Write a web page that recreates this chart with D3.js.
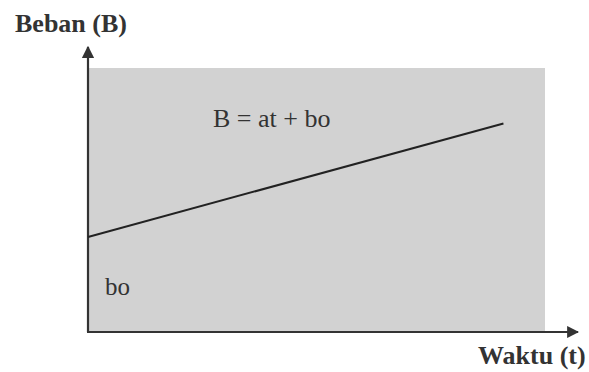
<!DOCTYPE html>
<html>
<head>
<meta charset="utf-8">
<script src="https://cdn.jsdelivr.net/npm/d3@7"></script>
<style>
  html, body { margin: 0; padding: 0; background: #fff; }
  svg { display: block; }
  .lbl { font-family: "Liberation Serif", "Times New Roman", Times, "DejaVu Serif", serif; fill: #333; }
</style>
</head>
<body>
<svg id="chart" width="589" height="372"></svg>
<script>
// Linear load model B = a*t + bo
const timeDomain = [0, 11];
const loadDomain = [0, 10];
const lineT = [0, 10];
const lineB = [3.6, 7.9];
const equationLabel = "B = at + bo";
const interceptLabel = "bo";
const yAxisTitle = "Beban (B)";
const xAxisTitle = "Waktu (t)";

const svg = d3.select("#chart");
const plot = { left: 88, right: 545, top: 68, bottom: 332 };

const x = d3.scaleLinear().domain(timeDomain).range([plot.left, plot.right]);
const y = d3.scaleLinear().domain(loadDomain).range([plot.bottom, plot.top]);

// shaded plotting region
svg.append("rect")
  .attr("x", x(timeDomain[0]))
  .attr("y", y(loadDomain[1]))
  .attr("width", x(timeDomain[1]) - x(timeDomain[0]))
  .attr("height", y(loadDomain[0]) - y(loadDomain[1]))
  .attr("fill", "#d2d2d2");

// arrowhead marker
const defs = svg.append("defs");
defs.append("marker")
  .attr("id", "arrow")
  .attr("viewBox", "0 0 10 10")
  .attr("refX", 9).attr("refY", 5)
  .attr("markerWidth", 5.5).attr("markerHeight", 5.5)
  .attr("markerUnits", "strokeWidth")
  .attr("orient", "auto")
  .append("path")
  .attr("d", "M0,0 L10,5 L0,10 Z")
  .attr("fill", "#333");

// axes with arrows
svg.append("line")
  .attr("x1", x(0)).attr("y1", y(0))
  .attr("x2", x(0)).attr("y2", 47)
  .attr("stroke", "#333").attr("stroke-width", 2.2)
  .attr("marker-end", "url(#arrow)");
svg.append("line")
  .attr("x1", x(0) - 1).attr("y1", y(0))
  .attr("x2", 578).attr("y2", y(0))
  .attr("stroke", "#333").attr("stroke-width", 2.2)
  .attr("marker-end", "url(#arrow)");

// model line
const pts = lineT.map((t, i) => [t, lineB[i]]);
svg.append("path")
  .datum(pts)
  .attr("d", d3.line().x(d => x(d[0])).y(d => y(d[1])))
  .attr("fill", "none")
  .attr("stroke", "#222")
  .attr("stroke-width", 2);

// labels
svg.append("text").attr("class", "lbl")
  .attr("x", 15).attr("y", 32)
  .attr("font-weight", "bold").attr("font-size", 26)
  .text(yAxisTitle);
svg.append("text").attr("class", "lbl")
  .attr("x", 478).attr("y", 364)
  .attr("font-weight", "bold").attr("font-size", 26)
  .text(xAxisTitle);
svg.append("text").attr("class", "lbl")
  .attr("x", 213).attr("y", 127)
  .attr("font-size", 26)
  .text(equationLabel);
svg.append("text").attr("class", "lbl")
  .attr("x", 105).attr("y", 295)
  .attr("font-size", 25)
  .text(interceptLabel);
</script>
</body>
</html>
